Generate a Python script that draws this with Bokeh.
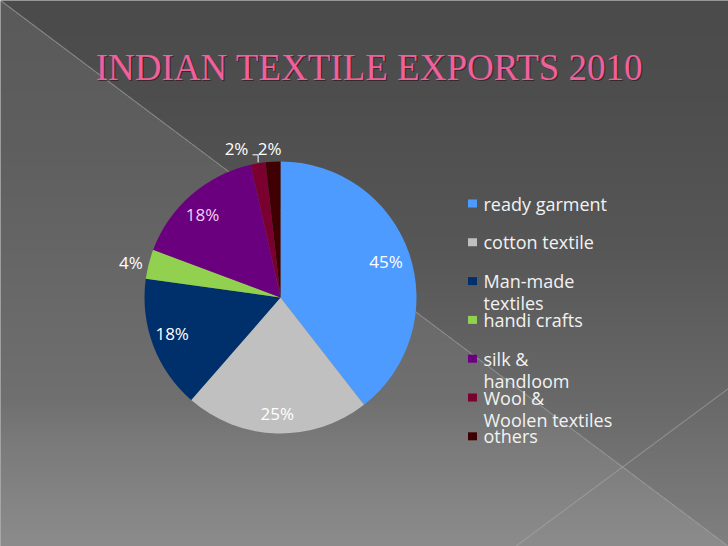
import numpy as np
from bokeh.plotting import figure
from bokeh.models import Range1d, ColumnDataSource
from bokeh.core.properties import value
from bokeh.embed import file_html
from bokeh.resources import INLINE

# ---------------- data ----------------
title = "INDIAN TEXTILE EXPORTS 2010"
categories = ["ready garment", "cotton textile", "Man-made textiles", "handi crafts",
              "silk & handloom", "Wool & Woolen textiles", "others"]
values = [45, 25, 18, 4, 18, 2, 2]
pct_labels = ["45%", "25%", "18%", "4%", "18%", "2%", "2%"]
legend_lines = [["ready garment"], ["cotton textile"], ["Man-made", "textiles"],
                ["handi crafts"], ["silk &", "handloom"], ["Wool &", "Woolen textiles"],
                ["others"]]

# ---------------- styles ----------------
colors = ["#4e9bff", "#c0c0c0", "#00306b", "#92d050", "#6b007f", "#7a0030", "#3f0003"]
label_colors = ["#ffffff", "#ffffff", "#ffffff", "#ffffff", "#f0d0f4", "#ffffff", "#ffffff"]
label_rfac = [0.82, 0.85, 0.84, 1.13, 0.84, 1.14, 1.10]
label_angoff = [0.0, 0.0, 2.0, -1.0, -2.0, -7.0, -1.0]

W, H = 728, 546
def Y(sy):
    return H - sy

CX, CY, R = 280, Y(297), 136
FONT = "Open Sans"

p = figure(width=W, height=H, output_backend="svg", toolbar_location=None,
           x_range=Range1d(0, W), y_range=Range1d(0, H), min_border=0)
p.axis.visible = False
p.grid.visible = False
p.outline_line_color = None
p.background_fill_color = "#666666"
p.border_fill_color = "#666666"

# ---------------- background gradient ----------------
s = 2
hh, ww = H // s, W // s
yy, xx = np.mgrid[0:hh, 0:ww].astype(float)
yy = yy * s + s / 2
xx = xx * s + s / 2
upper = np.interp(yy, [0, 100, 250, 400, 546], [75, 78, 87, 105, 128])
lower = np.interp(yy, [0, 150, 400, 440, 546], [90, 95, 112, 122, 140])
below_diag = yy > 0.75 * xx
g = np.where(below_diag, lower, upper).astype(np.uint32)
img = (255 << 24) | (g << 16) | (g << 8) | g
img = np.flipud(img).astype(np.uint32)
p.image_rgba(image=[img], x=0, y=0, dw=W, dh=H)

# decorative diagonal lines
p.line([0, W], [Y(0), Y(546)], line_color="#a8a8a8", line_width=1.1, line_alpha=0.6)
p.line([515, W], [Y(546), Y(388)], line_color="#a8a8a8", line_width=1.1, line_alpha=0.6)

# ---------------- title ----------------
p.text(x=[369 + 1.2], y=[Y(67) - 1.2], text=[title], text_font=value("Liberation Serif"),
       text_font_size="37px", text_color="#2a1020", text_alpha=0.6,
       text_align="center", text_baseline="middle")
p.text(x=[369], y=[Y(67)], text=[title], text_font=value("Liberation Serif"),
       text_font_size="37px", text_color="#f0609a",
       text_align="center", text_baseline="middle")

# ---------------- pie ----------------
vals = np.array(values, dtype=float)
fr = vals / vals.sum()
cum = np.concatenate([[0], np.cumsum(fr)])
start = np.pi / 2 - 2 * np.pi * cum[:-1]
end = np.pi / 2 - 2 * np.pi * cum[1:]
src = ColumnDataSource(dict(start=start, end=end, color=colors, cat=categories))
p.wedge(x=CX, y=CY, radius=R, start_angle="start", end_angle="end", direction="clock",
        fill_color="color", line_color=None, source=src)

# percent labels
mid = (start + end) / 2
lx, ly = [], []
for i, m in enumerate(mid):
    a = m - np.deg2rad(label_angoff[i])
    r = R * label_rfac[i]
    lx.append(CX + r * np.cos(a))
    ly.append(CY + r * np.sin(a))
p.text(x=lx, y=ly, text=pct_labels, text_font=value(FONT), text_font_size="17px",
       text_color=label_colors, text_align="center", text_baseline="middle")

# leader line for wool label
wi = 5
ax_ = CX + R * np.cos(mid[wi])
ay_ = CY + R * np.sin(mid[wi])
p.line([lx[wi] + 16, ax_, ax_], [ly[wi] - 6, ly[wi] - 6, ay_ + 1], line_color="#ffffff", line_width=1)

# ---------------- legend ----------------
lg_x, lg_y0, lg_dy, line_dy = 472, 203, 38.8, 22
sq_x, sq_y, tx, ty, tt = [], [], [], [], []
for i, lines in enumerate(legend_lines):
    yy0 = lg_y0 + i * lg_dy
    sq_x.append(lg_x)
    sq_y.append(Y(yy0))
    for j, t in enumerate(lines):
        tx.append(lg_x + 11)
        ty.append(Y(yy0 + j * line_dy))
        tt.append(t)
p.rect(x=sq_x, y=sq_y, width=9, height=8, fill_color=colors, line_color=None)
p.text(x=tx, y=ty, text=tt, text_font=value(FONT), text_font_size="18px",
       text_color="#f2f2f2", text_align="left", text_baseline="middle")

open("out.html", "w").write(file_html(p, INLINE))
